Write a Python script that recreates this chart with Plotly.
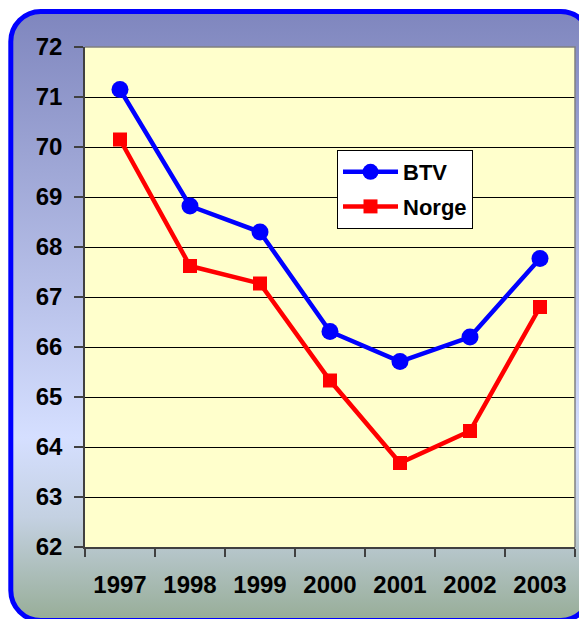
import base64
import plotly.graph_objects as go

years = ["1997", "1998", "1999", "2000", "2001", "2002", "2003"]
btv = [71.15, 68.82, 68.3, 66.31, 65.71, 66.2, 67.77]
norge = [70.15, 67.62, 67.27, 65.33, 63.68, 64.32, 66.8]
y_ticks = list(range(62, 73))

W, H = 587, 619
L, R, T, B = 77, 20, 39, 80
pw, ph = W - L - R, H - T - B

svg = f'''<svg xmlns="http://www.w3.org/2000/svg" width="{W}" height="{H}" viewBox="0 0 {W} {H}" preserveAspectRatio="none">
<defs><linearGradient id="g" x1="0" y1="0" x2="0" y2="1">
<stop offset="0" stop-color="#7F86BE"/>
<stop offset="0.70" stop-color="#D5DFFF"/>
<stop offset="0.83" stop-color="#C4D1E2"/>
<stop offset="1" stop-color="#97AD97"/>
</linearGradient></defs>
<rect x="2.8" y="3.5" width="580" height="609" rx="30" ry="30" fill="url(#g)" stroke="#0000FF" stroke-width="5"/>
</svg>'''
src = "data:image/svg+xml;base64," + base64.b64encode(svg.encode()).decode()

fig = go.Figure()
fig.add_trace(go.Scatter(x=years, y=btv, name="BTV", mode="lines+markers",
                         legendgroup="a",
                         line=dict(color="#0000FF", width=4.5),
                         marker=dict(symbol="circle", size=17, color="#0000FF")))
fig.add_trace(go.Scatter(x=years, y=norge, name="Norge", mode="lines+markers",
                         legendgroup="b",
                         line=dict(color="#FF0000", width=4.5),
                         marker=dict(symbol="square", size=14, color="#FF0000")))

fig.add_layout_image(dict(source=src, xref="paper", yref="paper",
                          x=-L / pw, y=(ph + T) / ph, sizex=W / pw, sizey=H / ph,
                          xanchor="left", yanchor="top", sizing="stretch", layer="below"))
fig.add_shape(type="rect", xref="paper", yref="paper", x0=0, x1=1, y0=0, y1=1,
              fillcolor="#FFFFCC", line=dict(width=0), layer="below")
fig.add_shape(type="path", xref="paper", yref="paper", path="M 0 1 L 1 1 L 1 0",
              line=dict(color="#808080", width=1.5), layer="above")

fig.update_layout(
    width=W, height=H, margin=dict(l=L, r=R, t=T, b=B),
    paper_bgcolor="white", plot_bgcolor="rgba(0,0,0,0)",
    font=dict(family="Liberation Sans, Arial, sans-serif", color="black"),
    showlegend=True,
    legend=dict(x=(329 - L) / pw, y=(539 - 142) / ph, xanchor="left", yanchor="top",
                bgcolor="white", bordercolor="black", borderwidth=1,
                font=dict(size=22, weight="bold"), itemwidth=55,
                traceorder="grouped", tracegroupgap=3),
)
fig.update_xaxes(type="category", range=[-0.5, 6.5], tickson="boundaries",
                 ticks="outside", ticklen=8, tickcolor="#404040", tickwidth=1.5,
                 showline=True, linecolor="#404040", linewidth=1.5, showgrid=False,
                 tickfont=dict(size=24, weight="bold"), ticklabelstandoff=15)
fig.update_yaxes(range=[62, 72], tickvals=y_ticks, ticks="outside", ticklen=9,
                 tickcolor="#404040", tickwidth=1.5, showline=True, linecolor="#404040",
                 linewidth=1.5, showgrid=True, gridcolor="black", gridwidth=1,
                 zeroline=False, tickfont=dict(size=24, weight="bold"),
                 ticklabelstandoff=7)

fig.write_html("out.html",
               post_script="document.documentElement.style.overflow='hidden';"
                           "document.body.style.overflow='hidden';")
